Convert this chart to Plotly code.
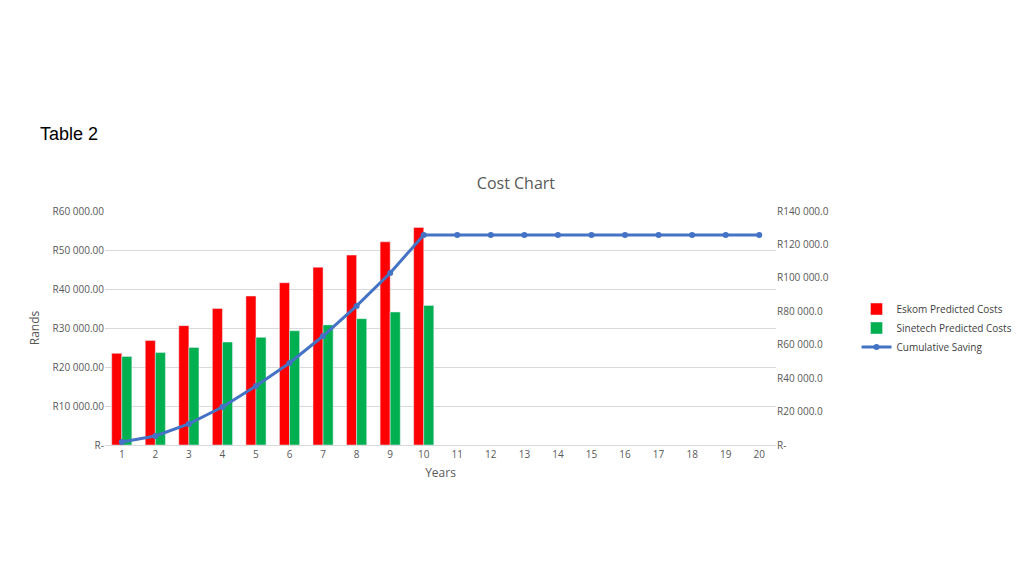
import plotly.graph_objects as go

years = list(range(1, 21))
eskom = [23500, 26800, 30600, 35000, 38200, 41600, 45600, 48700, 52100, 55800]
sinetech = [22700, 23700, 25000, 26400, 27600, 29300, 30800, 32400, 34100, 35800]
cumulative = [1800, 5400, 12600, 22700, 35300, 49100, 65200, 83200, 102900, 125700,
              125700, 125700, 125700, 125700, 125700, 125700, 125700, 125700, 125700, 125700]

left_vals = [0, 10000, 20000, 30000, 40000, 50000, 60000]
left_text = ["R-", "R10 000.00", "R20 000.00", "R30 000.00", "R40 000.00", "R50 000.00", "R60 000.00"]
right_vals = [0, 20000, 40000, 60000, 80000, 100000, 120000, 140000]
right_text = ["R-", "R20 000.0", "R40 000.0", "R60 000.0", "R80 000.0", "R100 000.0", "R120 000.0", "R140 000.0"]

fig = go.Figure()
fig.add_bar(x=years[:10], y=eskom, name="Eskom Predicted Costs", marker_color="#ff0000")
fig.add_bar(x=years[:10], y=sinetech, name="Sinetech Predicted Costs", marker_color="#00b050")
fig.add_scatter(x=years, y=cumulative, name="Cumulative Saving", yaxis="y2",
                mode="lines+markers", line=dict(color="#4472c4", width=3),
                marker=dict(size=6, color="#4472c4"))

fnt = dict(family="Open Sans, Liberation Sans", size=10, color="#595959")
fig.update_layout(
    width=1022, height=575, plot_bgcolor="white", paper_bgcolor="white",
    margin=dict(l=97, r=252, t=203, b=138),
    barmode="group", bargap=0.4, bargroupgap=0,
    font=fnt,
    title=dict(text="Cost Chart", x=0.497, xanchor="center", y=0.695, yanchor="middle",
               font=dict(family="Open Sans, Liberation Sans", size=16, color="#595959")),
    xaxis=dict(tickmode="array", tickvals=years, range=[0.5, 20.5], showgrid=False,
               showline=True, linecolor="#d9d9d9", ticks="",
               title=dict(text="Years", standoff=8)),
    yaxis=dict(range=[0, 60000], tickvals=left_vals, ticktext=left_text,
               gridcolor="#d9d9d9", zeroline=False, title=dict(text="Rands", standoff=10)),
    yaxis2=dict(range=[0, 140000], tickvals=right_vals, ticktext=right_text,
                overlaying="y", side="right", showgrid=False, zeroline=False),
    legend=dict(x=1.12, y=0.5, xanchor="left", yanchor="middle",
                font=dict(family="Open Sans, Liberation Sans", size=10, color="#404040")),
    annotations=[dict(text="Table 2", xref="paper", yref="paper", x=-0.1, y=1.33,
                      xanchor="left", yanchor="middle", showarrow=False,
                      font=dict(family="Liberation Sans", size=18, color="black"))],
)
fig.write_html("out.html")
